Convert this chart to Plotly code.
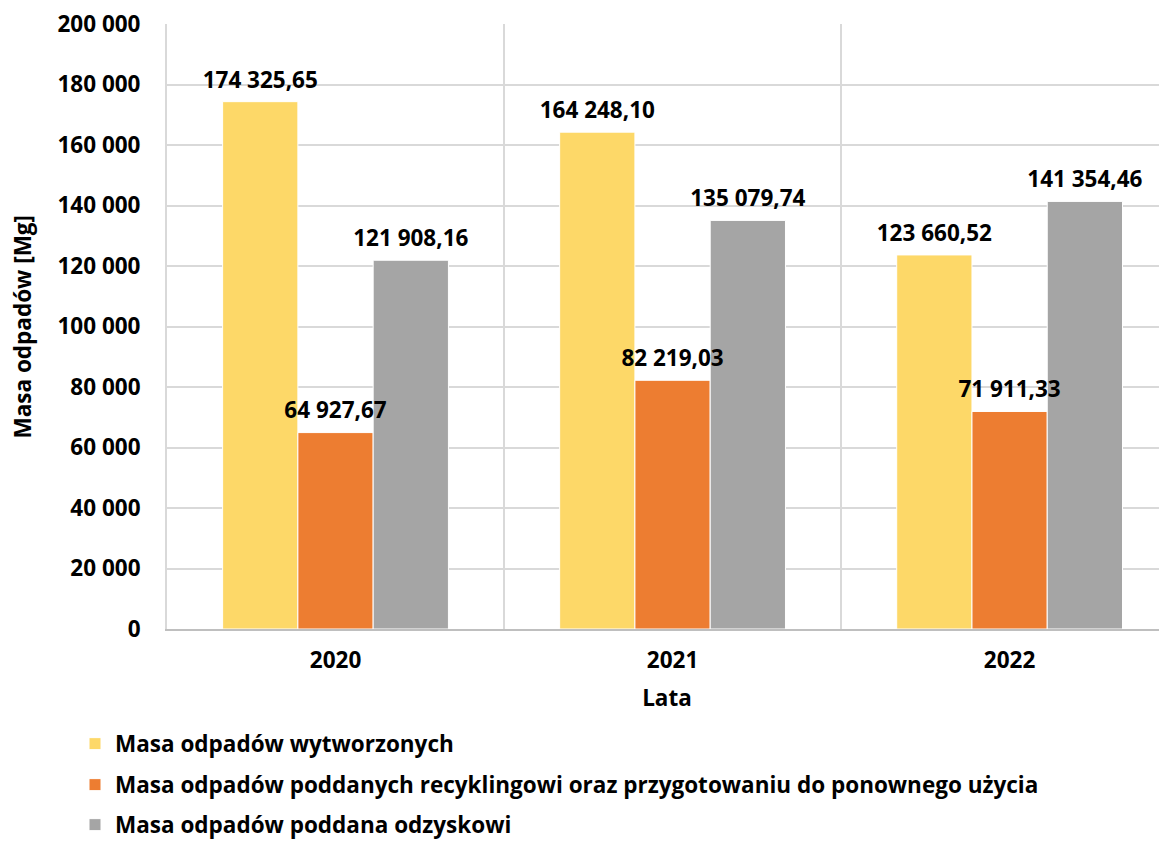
import plotly.graph_objects as go

years = ["2020", "2021", "2022"]
series_names = [
    "Masa odpadów wytworzonych",
    "Masa odpadów poddanych recyklingowi oraz przygotowaniu do ponownego użycia",
    "Masa odpadów poddana odzyskowi",
]
wytworzone = [174325.65, 164248.10, 123660.52]
recykling = [64927.67, 82219.03, 71911.33]
odzysk = [121908.16, 135079.74, 141354.46]
colors = ["#FDD868", "#ED7D31", "#A5A5A5"]
y_tickvals = [0, 20000, 40000, 60000, 80000, 100000, 120000, 140000, 160000, 180000, 200000]
y_ticktext = ["0", "20 000", "40 000", "60 000", "80 000", "100 000", "120 000",
              "140 000", "160 000", "180 000", "200 000"]
y_title = "Masa odpadów [Mg]"
x_title = "Lata"


def fmt(v):
    s = f"{v:,.2f}"
    intpart, dec = s.split(".")
    return intpart.replace(",", " ") + "," + dec


FONT = "Open Sans, Liberation Sans, Arial, sans-serif"
FS = 22.5
legend_ids = ["legend", "legend2", "legend3"]
# legend row centres (figure px from top)
legend_rows = [736, 777, 817]

fig = go.Figure()
for i, (name, vals, col) in enumerate(zip(series_names, [wytworzone, recykling, odzysk], colors)):
    fig.add_trace(go.Bar(
        x=years, y=vals, name=f"<b>{name}</b>",
        marker=dict(color=col, line=dict(color="white", width=1)),
        offsetgroup=str(i), legend=legend_ids[i],
    ))
for i, vals in enumerate([wytworzone, recykling, odzysk]):
    fig.add_trace(go.Scatter(
        x=years, y=vals, mode="markers+text",
        text=[f"<b>{fmt(v)}</b>" for v in vals], textposition="top center",
        textfont=dict(family=FONT, size=FS, color="black"),
        marker=dict(size=12, opacity=0),
        offsetgroup=str(i), showlegend=False, cliponaxis=False, hoverinfo="skip",
    ))

legend_common = dict(
    orientation="v", xref="container", yref="container",
    xanchor="left", yanchor="middle",
    font=dict(family=FONT, size=FS, color="black"),
    bgcolor="rgba(0,0,0,0)", borderwidth=0,
)
layout_legends = {}
for lid, row in zip(legend_ids, legend_rows):
    layout_legends[lid] = dict(legend_common, x=67 / 1167, y=1 - row / 841)

fig.update_layout(
    width=1167, height=841,
    margin=dict(l=159, r=8, t=16, b=220, autoexpand=False),
    paper_bgcolor="white", plot_bgcolor="white",
    barmode="group", bargap=0.33, bargroupgap=0,
    scattermode="group", scattergap=0.33,
    font=dict(family=FONT, size=FS, color="black"),
    showlegend=True,
    **layout_legends,
    xaxis=dict(
        type="category", range=[-0.5, 2.467],
        tickson="boundaries", showgrid=True, gridcolor="#D9D9D9", gridwidth=2,
        showline=True, linecolor="#BFBFBF", linewidth=2,
        ticks="", tickvals=years, ticktext=[f"<b>{y}</b>" for y in years],
        ticklabelstandoff=10,
        tickfont=dict(family=FONT, size=FS, color="black"),
        title=dict(text=f"<b>{x_title}</b>", font=dict(family=FONT, size=FS, color="black"), standoff=16),
    ),
    yaxis=dict(
        range=[0, 200000], tickvals=y_tickvals, ticktext=[f"<b>{t}</b>" for t in y_ticktext],
        showgrid=True, gridcolor="#D9D9D9", gridwidth=2,
        showline=True, linecolor="#D9D9D9", linewidth=2, zeroline=False,
        ticks="", ticklabelstandoff=20, ticklabeloverflow="allow",
        tickfont=dict(family=FONT, size=FS, color="black"),
    ),
    annotations=[dict(
        text=f"<b>{y_title}</b>", xref="paper", yref="paper",
        x=-0.145, y=0.5, xanchor="center", yanchor="middle",
        textangle=-90, showarrow=False,
        font=dict(family=FONT, size=FS, color="black"),
    )],
)

fig.write_html("out.html")
